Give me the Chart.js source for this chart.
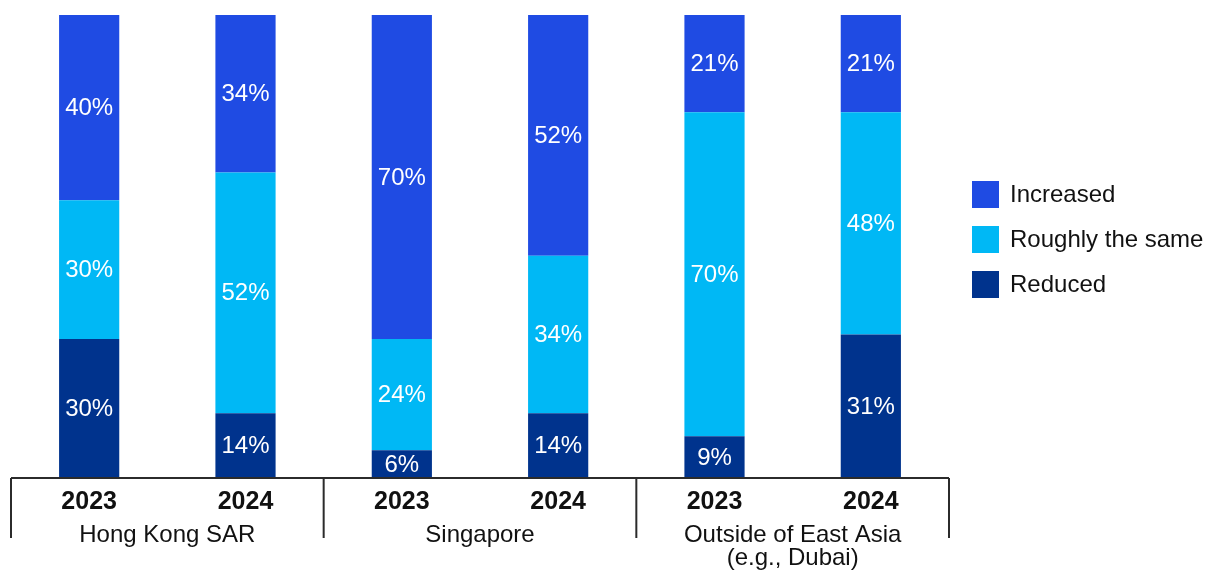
<!DOCTYPE html>
<html lang="en">
<head>
    <meta charset="UTF-8">
    <title>Change by location, 2023 vs 2024</title>
    <script src="https://cdn.jsdelivr.net/npm/chart.js"></script>
    <style>
        html, body { margin: 0; padding: 0; background: #fff; }
        #wrap { width: 1213px; height: 570px; position: relative; }
    </style>
</head>
<body>
<div id="wrap"><canvas id="myChart"></canvas></div>
<script>
    // bar labels (years) and the location each pair of bars belongs to
    const years = ['2023', '2024', '2023', '2024', '2023', '2024'];
    const groups = [['Hong Kong SAR'], ['Singapore'], ['Outside of East Asia', '(e.g., Dubai)']];

    // share of respondents, in percent
    const reduced = [30, 14, 6, 14, 9, 31];
    const roughlySame = [30, 52, 24, 34, 70, 48];
    const increased = [40, 34, 70, 52, 21, 21];

    const seriesNames = ['Increased', 'Roughly the same', 'Reduced'];
    const seriesColors = ['#1F4BE3', '#00B8F5', '#00338D'];

    const FONT = '"Liberation Sans", Arial, sans-serif';

    // white percentage labels centred in each segment
    const segmentLabels = {
        id: 'segmentLabels',
        afterDatasetsDraw(chart) {
            const ctx = chart.ctx;
            ctx.save();
            ctx.fillStyle = '#ffffff';
            ctx.font = '24px ' + FONT;
            ctx.textAlign = 'center';
            ctx.textBaseline = 'middle';
            chart.data.datasets.forEach((ds, i) => {
                chart.getDatasetMeta(i).data.forEach((bar, j) => {
                    const mid = (bar.y + bar.base) / 2;
                    ctx.fillText(ds.data[j] + '%', bar.x, mid + 1);
                });
            });
            ctx.restore();
        }
    };

    // baseline, group dividers, year and location labels, legend
    const axisAndLegend = {
        id: 'axisAndLegend',
        afterDraw(chart) {
            const ctx = chart.ctx;
            const x = chart.scales.x;
            const area = chart.chartArea;
            const base = area.bottom;
            const step = x.getPixelForValue(1) - x.getPixelForValue(0);
            const left = x.getPixelForValue(0) - step / 2;

            ctx.save();
            ctx.strokeStyle = '#2b2b2b';
            ctx.lineWidth = 2;
            ctx.beginPath();
            ctx.moveTo(left, base);
            ctx.lineTo(left + step * years.length, base);
            for (let g = 0; g <= groups.length; g++) {
                const gx = left + step * 2 * g;
                ctx.moveTo(gx, base);
                ctx.lineTo(gx, base + 60);
            }
            ctx.stroke();

            ctx.fillStyle = '#111111';
            ctx.textAlign = 'center';
            ctx.textBaseline = 'middle';
            ctx.font = 'bold 25px ' + FONT;
            years.forEach((y, i) => {
                ctx.fillText(y, x.getPixelForValue(i), base + 24);
            });

            ctx.font = '24px ' + FONT;
            groups.forEach((lines, g) => {
                const cx = left + step * (2 * g + 1);
                lines.forEach((t, k) => {
                    ctx.fillText(t, cx, base + 57 + k * 23);
                });
            });

            // legend
            ctx.textAlign = 'left';
            seriesNames.forEach((name, i) => {
                const top = 181 + i * 45;
                ctx.fillStyle = seriesColors[i];
                ctx.fillRect(972, top, 27, 27);
                ctx.fillStyle = '#111111';
                ctx.fillText(name, 1010, top + 14);
            });
            ctx.restore();
        }
    };

    const ctx = document.getElementById('myChart').getContext('2d');
    new Chart(ctx, {
        type: 'bar',
        data: {
            labels: years,
            datasets: [
                { label: 'Reduced', data: reduced, backgroundColor: seriesColors[2] },
                { label: 'Roughly the same', data: roughlySame, backgroundColor: seriesColors[1] },
                { label: 'Increased', data: increased, backgroundColor: seriesColors[0] }
            ]
        },
        options: {
            responsive: true,
            maintainAspectRatio: false,
            animation: false,
            layout: { padding: { left: 11, right: 264, top: 15, bottom: 92 } },
            datasets: {
                bar: { barPercentage: 0.385, categoryPercentage: 1, borderWidth: 0 }
            },
            scales: {
                x: { stacked: true, display: false },
                y: { stacked: true, display: false, min: 0, max: 100 }
            },
            plugins: {
                legend: { display: false },
                tooltip: { enabled: false }
            }
        },
        plugins: [segmentLabels, axisAndLegend]
    });
</script>
</body>
</html>
